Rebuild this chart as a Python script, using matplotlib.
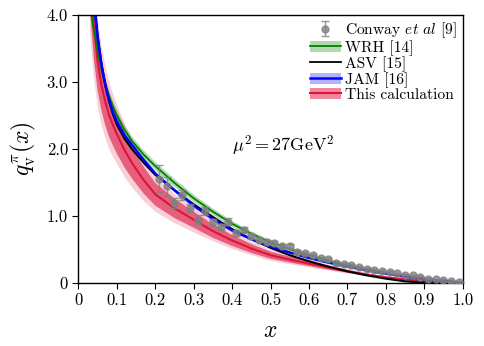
import numpy as np
import matplotlib
matplotlib.use("Agg")
import matplotlib.pyplot as plt
from matplotlib.patches import Patch
from matplotlib.lines import Line2D

plt.rcParams['font.family'] = 'serif'
plt.rcParams['font.serif'] = ['cmr10', 'DejaVu Serif']
plt.rcParams['mathtext.fontset'] = 'cm'
plt.rcParams['axes.unicode_minus'] = False

# ---- data ----
xg = [0.03, 0.04, 0.05, 0.06, 0.07, 0.08, 0.09, 0.10, 0.12, 0.14, 0.17, 0.20,
      0.25, 0.30, 0.35, 0.40, 0.45, 0.50, 0.55, 0.60, 0.65, 0.70, 0.75, 0.80,
      0.85, 0.90, 0.95, 1.00]

wrh = [4.15, 3.78, 3.45, 3.18, 2.96, 2.78, 2.63, 2.50, 2.28, 2.11, 1.91, 1.74,
       1.49, 1.26, 1.06, 0.88, 0.73, 0.60, 0.50, 0.41, 0.33, 0.26, 0.20, 0.145,
       0.10, 0.06, 0.025, 0.0]
wrh_err = [0.12, 0.10, 0.09, 0.08, 0.08, 0.07, 0.07, 0.07, 0.065, 0.065, 0.065, 0.06,
           0.06, 0.055, 0.05, 0.045, 0.04, 0.04, 0.035, 0.03, 0.03, 0.025, 0.02, 0.02,
           0.015, 0.01, 0.005, 0.0]

asv = [5.0, 4.3, 3.70, 3.27, 2.94, 2.70, 2.51, 2.36, 2.15, 1.99, 1.79, 1.61,
       1.38, 1.17, 0.98, 0.80, 0.65, 0.52, 0.41, 0.32, 0.24, 0.17, 0.11, 0.06,
       0.02, 0.0, 0.0, 0.0]

jam = [4.9, 4.2, 3.65, 3.25, 2.95, 2.72, 2.54, 2.40, 2.20, 2.05, 1.83, 1.63,
       1.38, 1.15, 0.95, 0.78, 0.65, 0.54, 0.45, 0.37, 0.30, 0.24, 0.185, 0.135,
       0.09, 0.055, 0.025, 0.0]
jam_err = [0.08, 0.06, 0.05, 0.04, 0.04, 0.035, 0.035, 0.03, 0.03, 0.03, 0.03, 0.025,
           0.025, 0.02, 0.02, 0.02, 0.02, 0.015, 0.015, 0.015, 0.01, 0.01, 0.01, 0.01,
           0.005, 0.005, 0.003, 0.0]

calc = [4.7, 3.85, 3.30, 2.95, 2.70, 2.50, 2.35, 2.22, 1.98, 1.78, 1.53, 1.32,
        1.11, 0.94, 0.77, 0.63, 0.51, 0.41, 0.345, 0.285, 0.225, 0.17, 0.12, 0.08,
        0.05, 0.025, 0.01, 0.0]
calc_err1 = [0.61, 0.50, 0.43, 0.38, 0.35, 0.325, 0.305, 0.29, 0.26, 0.23, 0.20, 0.17,
             0.145, 0.12, 0.10, 0.082, 0.066, 0.053, 0.045, 0.037, 0.029, 0.022, 0.016, 0.010,
             0.0065, 0.003, 0.0013, 0.0]
calc_err2 = [0.94, 0.77, 0.66, 0.59, 0.54, 0.50, 0.47, 0.44, 0.40, 0.36, 0.31, 0.26,
             0.22, 0.19, 0.15, 0.126, 0.10, 0.082, 0.069, 0.057, 0.045, 0.034, 0.024, 0.016,
             0.01, 0.005, 0.002, 0.0]

conway_x = [0.21, 0.23, 0.25, 0.27, 0.29, 0.31, 0.33, 0.35, 0.37, 0.39, 0.41, 0.43,
            0.45, 0.47, 0.49, 0.51, 0.53, 0.55, 0.57, 0.59, 0.61, 0.63, 0.65, 0.67,
            0.69, 0.71, 0.73, 0.75, 0.77, 0.79, 0.81, 0.83, 0.85, 0.87, 0.89, 0.91,
            0.93, 0.95, 0.97, 0.99]
conway_y = [1.55, 1.44, 1.19, 1.31, 1.12, 0.94, 1.07, 0.90, 0.83, 0.91, 0.74, 0.79,
            0.69, 0.63, 0.60, 0.59, 0.55, 0.55, 0.46, 0.44, 0.41, 0.37, 0.35, 0.30,
            0.28, 0.26, 0.24, 0.20, 0.19, 0.17, 0.16, 0.14, 0.12, 0.11, 0.09, 0.06,
            0.05, 0.04, 0.02, 0.01]
conway_err = [0.20, 0.14, 0.08, 0.08, 0.06, 0.07, 0.06, 0.05, 0.05, 0.05, 0.04, 0.04,
              0.035, 0.03, 0.03, 0.03, 0.03, 0.03, 0.025, 0.025, 0.025, 0.02, 0.02, 0.02,
              0.02, 0.02, 0.015, 0.015, 0.015, 0.015, 0.01, 0.01, 0.01, 0.01, 0.01, 0.01,
              0.01, 0.01, 0.01, 0.01]

xticks = [0, 0.1, 0.2, 0.3, 0.4, 0.5, 0.6, 0.7, 0.8, 0.9, 1.0]
xticklabels = ['0', '0.1', '0.2', '0.3', '0.4', '0.5', '0.6', '0.7', '0.8', '0.9', '1.0']
yticks = [0, 1, 2, 3, 4]
yticklabels = ['0', '1.0', '2.0', '3.0', '4.0']

# ---- plot ----
fig = plt.figure(figsize=(4.84, 3.46), dpi=100)
ax = fig.add_axes([0.162, 0.183, 0.794, 0.7745])

x = np.array(xg)
g, ge = np.array(wrh), np.array(wrh_err)
b, be = np.array(jam), np.array(jam_err)
r, re1, re2 = np.array(calc), np.array(calc_err1), np.array(calc_err2)

ax.fill_between(x, r - re2, r + re2, color='crimson', alpha=0.2, lw=0)
ax.fill_between(x, r - re1, r + re1, color='crimson', alpha=0.6, lw=0)
ax.fill_between(x, g - ge, g + ge, color='green', alpha=0.3, lw=0)
ax.fill_between(x, b - be, b + be, color='blue', alpha=0.3, lw=0)

ax.plot(x, r, color='crimson', lw=1.5)
ax.plot(x, g, color='green', lw=1.3)
ax.plot(x, asv, color='black', lw=1.5)
ax.plot(x, b, color='blue', lw=1.8)

eb = ax.errorbar(conway_x, conway_y, yerr=conway_err, fmt='o', color='gray',
                 ms=5, alpha=0.8, capsize=3, elinewidth=1, zorder=5)

ax.text(0.40, 2.05, r'$\mu^2 = 27\mathrm{GeV}^2$', fontsize=13, va='center')

ax.set_xlim(0, 1)
ax.set_ylim(0, 4)
ax.set_xticks(xticks)
ax.set_xticklabels(xticklabels)
ax.set_yticks(yticks)
ax.set_yticklabels(yticklabels)
ax.tick_params(direction='out', length=4, labelsize=12)
ax.set_xlabel(r'$x$', fontsize=17, labelpad=8)
ax.set_ylabel(r'$q_{\rm v}^{\pi}(x)$', fontsize=17, labelpad=6)
for s in ax.spines.values():
    s.set_linewidth(1.0)

h_wrh = (Patch(color='green', alpha=0.3, lw=0), Line2D([], [], color='green', lw=1.3))
h_asv = Line2D([], [], color='black', lw=1.3)
h_jam = (Patch(color='blue', alpha=0.3, lw=0), Line2D([], [], color='blue', lw=1.8))
h_calc = (Patch(color='crimson', alpha=0.5, lw=0), Line2D([], [], color='crimson', lw=1.5))
leg = ax.legend([eb, h_wrh, h_asv, h_jam, h_calc],
                [r'Conway $et\ al$ [9]', 'WRH [14]', 'ASV [15]', 'JAM [16]', 'This calculation'],
                loc='upper right', bbox_to_anchor=(1.0, 1.0), fontsize=11.2, frameon=False,
                borderaxespad=0.15, labelspacing=0.02, handlelength=2.0,
                handletextpad=0.3, borderpad=0.2)

fig.savefig('out.png', dpi=100)
